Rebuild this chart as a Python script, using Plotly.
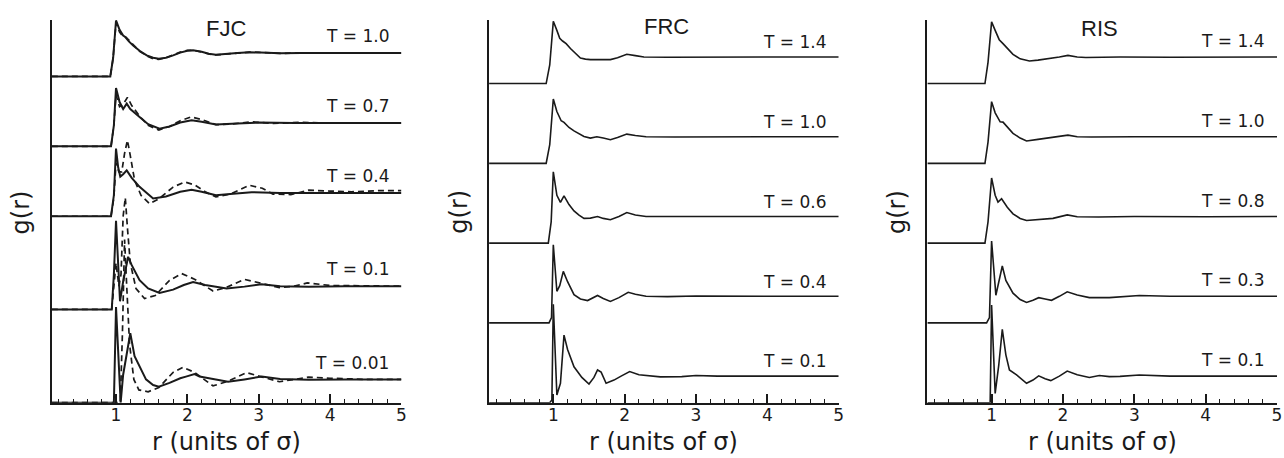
import plotly.graph_objects as go

# ---------------- DATA ----------------
panel_names = ["FJC", "FRC", "RIS"]

# FJC panel (solid = simulation, dashed = comparison)
fjc_temps = ["T = 1.0", "T = 0.7", "T = 0.4", "T = 0.1", "T = 0.01"]
fjc_offsets = [14, 11, 8, 4, 0]

fjc_T10_r = [0.1, 0.92, 0.96, 1.0, 1.05, 1.1, 1.13, 1.18, 1.24, 1.33, 1.43, 1.52, 1.6, 1.7, 1.8, 1.9, 2.0, 2.08, 2.2, 2.3, 2.4, 2.55, 2.7, 2.87, 3.0, 3.3, 3.6, 4.0, 4.5, 5.0]
fjc_T10_g = [0, 0, 0.8, 2.4, 2.0, 1.75, 1.69, 1.5, 1.33, 1.1, 0.9, 0.8, 0.76, 0.8, 0.9, 1.02, 1.1, 1.12, 1.06, 0.97, 0.93, 0.95, 1.0, 1.04, 1.03, 0.99, 1.0, 1.01, 1.0, 1.0]
fjc_T10d_r = [0.1, 0.92, 0.96, 1.0, 1.05, 1.1, 1.14, 1.18, 1.24, 1.33, 1.43, 1.52, 1.6, 1.7, 1.8, 1.9, 2.0, 2.08, 2.2, 2.3, 2.4, 2.55, 2.7, 2.87, 3.0, 3.3, 3.6, 4.0, 4.5, 5.0]
fjc_T10d_g = [0, 0, 0.8, 2.3, 1.9, 1.7, 1.68, 1.55, 1.35, 1.08, 0.88, 0.76, 0.73, 0.8, 0.92, 1.04, 1.12, 1.12, 1.05, 0.96, 0.92, 0.95, 1.01, 1.04, 1.03, 0.99, 1.0, 1.0, 1.0, 1.0]

fjc_T07_r = [0.1, 0.93, 0.97, 1.0, 1.05, 1.1, 1.15, 1.2, 1.33, 1.45, 1.61, 1.75, 1.9, 2.06, 2.2, 2.4, 2.7, 3.0, 3.5, 4.0, 5.0]
fjc_T07_g = [0, 0, 0.9, 2.5, 1.9, 1.6, 1.83, 1.6, 1.26, 0.95, 0.76, 0.85, 1.02, 1.12, 1.05, 0.94, 0.98, 1.02, 1.0, 1.0, 1.0]
fjc_T07d_r = [0.1, 0.93, 0.97, 1.0, 1.05, 1.1, 1.16, 1.22, 1.33, 1.45, 1.6, 1.75, 1.9, 2.05, 2.2, 2.4, 2.6, 2.9, 3.2, 3.6, 4.0, 5.0]
fjc_T07d_g = [0, 0, 0.9, 2.2, 1.7, 1.8, 2.1, 1.75, 1.3, 0.9, 0.7, 0.85, 1.1, 1.26, 1.15, 0.93, 0.95, 1.05, 0.98, 1.03, 1.0, 1.0]

fjc_T04_r = [0.1, 0.93, 0.97, 1.0, 1.03, 1.06, 1.1, 1.15, 1.22, 1.33, 1.52, 1.7, 1.9, 2.06, 2.2, 2.4, 2.6, 2.9, 3.3, 4.0, 5.0]
fjc_T04_g = [0, 0, 0.9, 2.9, 2.1, 1.7, 1.8, 1.97, 1.65, 1.26, 0.76, 0.85, 1.05, 1.14, 1.05, 0.9, 0.95, 1.03, 1.0, 1.0, 1.0]
fjc_T04d_r = [0.1, 0.93, 0.97, 1.0, 1.04, 1.08, 1.12, 1.16, 1.2, 1.26, 1.35, 1.47, 1.6, 1.8, 1.96, 2.1, 2.25, 2.4, 2.6, 2.87, 3.05, 3.2, 3.45, 3.7, 4.0, 4.3, 4.7, 5.0]
fjc_T04d_g = [0, 0, 0.8, 2.3, 1.9, 1.9, 2.7, 3.26, 2.6, 1.55, 0.9, 0.54, 0.75, 1.25, 1.47, 1.35, 1.05, 0.83, 0.95, 1.33, 1.2, 0.95, 0.93, 1.12, 1.08, 1.05, 1.1, 1.1]

fjc_T01_r = [0.1, 0.94, 0.97, 1.0, 1.056, 1.1, 1.17, 1.22, 1.33, 1.45, 1.61, 1.8, 1.95, 2.08, 2.25, 2.55, 2.8, 3.04, 3.3, 3.7, 4.2, 5.0]
fjc_T01_g = [0, 0, 1.5, 3.8, 0.35, 1.2, 2.26, 1.9, 1.26, 0.9, 0.71, 0.85, 1.05, 1.18, 1.05, 0.9, 0.98, 1.08, 1.0, 0.98, 1.0, 1.0]
fjc_T01d_r = [0.1, 0.94, 0.97, 1.0, 1.04, 1.07, 1.1, 1.13, 1.16, 1.2, 1.28, 1.4, 1.55, 1.75, 1.92, 2.1, 2.36, 2.55, 2.8, 3.05, 3.29, 3.5, 3.68, 4.0, 4.5, 5.0]
fjc_T01d_g = [0, 0, 1.0, 2.0, 1.0, 1.5, 4.0, 4.8, 3.5, 2.0, 0.9, 0.47, 0.6, 1.25, 1.54, 1.3, 0.79, 0.95, 1.29, 1.1, 0.94, 1.0, 1.14, 1.03, 1.0, 1.0]

fjc_T001_r = [0.1, 0.97, 1.0, 1.065, 1.1, 1.2, 1.26, 1.33, 1.42, 1.52, 1.6, 1.75, 1.9, 1.98, 2.1, 2.17, 2.3, 2.57, 2.8, 3.04, 3.3, 3.7, 4.2, 5.0]
fjc_T001_g = [0, 0, 4.1, 0.0, 1.2, 2.98, 2.0, 1.55, 1.0, 0.76, 0.69, 0.85, 1.05, 1.12, 1.23, 1.12, 1.05, 0.9, 1.0, 1.12, 1.02, 0.98, 1.0, 1.0]
fjc_T001d_r = [0.1, 1.06, 1.09, 1.12, 1.15, 1.19, 1.25, 1.32, 1.45, 1.6, 1.8, 1.94, 2.1, 2.36, 2.55, 2.83, 3.05, 3.29, 3.5, 3.7, 4.0, 4.5, 5.0]
fjc_T001d_g = [0, 0, 3.0, 7.0, 5.0, 2.5, 1.0, 0.55, 0.47, 0.65, 1.3, 1.52, 1.3, 0.72, 0.9, 1.29, 1.1, 0.9, 1.0, 1.1, 1.05, 1.0, 1.0]

# FRC panel
frc_temps = ["T = 1.4", "T = 1.0", "T = 0.6", "T = 0.4", "T = 0.1"]
frc_offsets = [12, 9, 6, 3, 0]
frc_T14_r = [0.1, 0.9, 0.95, 1.0, 1.05, 1.09, 1.13, 1.18, 1.24, 1.3, 1.38, 1.45, 1.52, 1.65, 1.8, 1.9, 2.03, 2.15, 2.27, 2.6, 3.0, 3.5, 4.0, 5.0]
frc_T14_g = [0, 0, 0.7, 2.34, 2.0, 1.7, 1.6, 1.5, 1.32, 1.15, 0.96, 0.92, 0.9, 0.9, 0.9, 0.97, 1.1, 1.05, 1.0, 0.99, 1.0, 1.0, 1.0, 1.0]
frc_T10_r = [0.1, 0.9, 0.95, 1.0, 1.05, 1.11, 1.15, 1.22, 1.29, 1.36, 1.43, 1.52, 1.61, 1.7, 1.8, 1.9, 2.03, 2.15, 2.3, 2.7, 3.2, 4.0, 5.0]
frc_T10_g = [0, 0, 0.7, 2.42, 1.95, 1.6, 1.54, 1.35, 1.22, 1.1, 1.01, 0.95, 1.0, 0.95, 0.89, 0.97, 1.1, 1.05, 1.0, 0.99, 1.0, 1.0, 1.0]
frc_T06_r = [0.1, 0.93, 0.97, 1.0, 1.05, 1.1, 1.15, 1.22, 1.29, 1.36, 1.43, 1.52, 1.62, 1.7, 1.8, 1.92, 2.03, 2.15, 2.3, 2.7, 3.2, 4.0, 5.0]
frc_T06_g = [0, 0, 0.8, 2.68, 1.8, 1.53, 1.78, 1.45, 1.21, 1.05, 0.93, 0.94, 1.0, 0.93, 0.88, 1.0, 1.15, 1.06, 1.0, 1.0, 1.0, 1.0, 1.0]
frc_T04_r = [0.1, 0.94, 0.975, 1.0, 1.05, 1.09, 1.14, 1.2, 1.29, 1.38, 1.48, 1.56, 1.62, 1.7, 1.8, 1.92, 2.05, 2.15, 2.3, 2.6, 3.0, 4.0, 5.0]
frc_T04_g = [0, 0, 0.2, 2.94, 1.19, 1.4, 1.94, 1.55, 1.06, 0.9, 0.84, 0.95, 1.03, 0.92, 0.81, 0.95, 1.15, 1.08, 1.0, 0.99, 1.01, 1.0, 1.0]
frc_T01_r = [0.1, 0.95, 0.98, 1.0, 1.05, 1.1, 1.15, 1.2, 1.29, 1.4, 1.5, 1.57, 1.62, 1.67, 1.74, 1.85, 1.95, 2.07, 2.2, 2.5, 2.8, 3.0, 3.3, 4.0, 5.0]
frc_T01_g = [0, 0, 0.1, 3.7, 0.29, 0.73, 2.54, 2.0, 1.35, 0.95, 0.7, 0.95, 1.23, 1.15, 0.73, 0.85, 1.0, 1.17, 1.05, 0.97, 0.98, 1.02, 1.0, 1.0, 1.0]

# RIS panel
ris_temps = ["T = 1.4", "T = 1.0", "T = 0.8", "T = 0.3", "T = 0.1"]
ris_offsets = [12, 9, 6, 3, 0]
ris_T14_r = [0.1, 0.907, 0.95, 1.0, 1.05, 1.107, 1.16, 1.23, 1.3, 1.4, 1.53, 1.65, 1.81, 1.95, 2.07, 2.2, 2.32, 2.8, 3.5, 4.2, 5.0]
ris_T14_g = [0, 0, 0.8, 2.32, 2.0, 1.65, 1.5, 1.3, 1.1, 0.93, 0.85, 0.88, 0.93, 1.0, 1.06, 1.0, 0.98, 1.0, 0.99, 1.0, 1.0]
ris_T10_r = [0.1, 0.907, 0.95, 1.0, 1.05, 1.12, 1.16, 1.23, 1.3, 1.4, 1.49, 1.65, 1.81, 1.95, 2.07, 2.2, 2.4, 3.0, 4.0, 5.0]
ris_T10_g = [0, 0, 0.8, 2.32, 1.9, 1.56, 1.55, 1.35, 1.13, 0.95, 0.84, 0.9, 0.96, 1.02, 1.06, 1.0, 0.99, 1.0, 1.0, 1.0]
ris_T08_r = [0.1, 0.907, 0.95, 1.0, 1.05, 1.09, 1.14, 1.22, 1.3, 1.4, 1.49, 1.65, 1.86, 2.06, 2.2, 2.5, 3.0, 4.0, 5.0]
ris_T08_g = [0, 0, 0.8, 2.45, 1.8, 1.54, 1.67, 1.35, 1.1, 0.93, 0.85, 0.88, 0.93, 1.06, 0.99, 0.98, 1.0, 0.99, 1.0]
ris_T03_r = [0.1, 0.93, 0.97, 1.0, 1.06, 1.1, 1.15, 1.2, 1.3, 1.4, 1.49, 1.58, 1.66, 1.75, 1.84, 1.95, 2.06, 2.2, 2.37, 2.65, 3.07, 3.5, 4.0, 5.0]
ris_T03_g = [0, 0, 0.2, 3.08, 1.04, 1.5, 2.14, 1.6, 1.12, 0.88, 0.77, 0.85, 0.95, 0.9, 0.85, 1.0, 1.17, 1.05, 0.95, 0.95, 1.03, 1.0, 1.0, 1.0]
ris_T01_r = [0.1, 0.98, 1.0, 1.05, 1.1, 1.15, 1.2, 1.25, 1.35, 1.49, 1.58, 1.66, 1.75, 1.83, 1.95, 2.06, 2.2, 2.37, 2.51, 2.65, 2.8, 3.07, 3.5, 4.0, 5.0]
ris_T01_g = [0, 0, 3.67, 0.35, 1.4, 2.76, 1.8, 1.23, 1.05, 0.73, 0.85, 1.01, 0.9, 0.83, 1.0, 1.19, 1.05, 0.95, 1.02, 0.98, 0.99, 1.04, 1.0, 1.0, 1.0]

x_tick_vals = [1, 2, 3, 4, 5]
x_tick_text = ["1", "2", "3", "4", "5"]

# ---------------- FIGURE ----------------
W, H = 1284, 458
INK = "#1a1a1a"
FONT_T = "DejaVu Sans, Liberation Sans, Arial, sans-serif"
FONT_H = "Liberation Sans, Arial, Helvetica, sans-serif"

fig = go.Figure()

panels = [
    dict(name="FJC", temps=fjc_temps, offsets=fjc_offsets,
         solid=[(fjc_T10_r, fjc_T10_g), (fjc_T07_r, fjc_T07_g), (fjc_T04_r, fjc_T04_g), (fjc_T01_r, fjc_T01_g), (fjc_T001_r, fjc_T001_g)],
         dashed=[(fjc_T10d_r, fjc_T10d_g), (fjc_T07d_r, fjc_T07d_g), (fjc_T04d_r, fjc_T04d_g), (fjc_T01d_r, fjc_T01d_g), (fjc_T001d_r, fjc_T001d_g)],
         xdom=(52, 403), ymax=16.42, lw=2.0, lab_dy=1.72, title_xy=(227, 29)),
    dict(name="FRC", temps=frc_temps, offsets=frc_offsets,
         solid=[(frc_T14_r, frc_T14_g), (frc_T10_r, frc_T10_g), (frc_T06_r, frc_T06_g), (frc_T04_r, frc_T04_g), (frc_T01_r, frc_T01_g)],
         dashed=[], xdom=(491, 842), ymax=14.39, lw=1.6, lab_dy=1.55, title_xy=(669, 27)),
    dict(name="RIS", temps=ris_temps, offsets=ris_offsets,
         solid=[(ris_T14_r, ris_T14_g), (ris_T10_r, ris_T10_g), (ris_T08_r, ris_T08_g), (ris_T03_r, ris_T03_g), (ris_T01_r, ris_T01_g)],
         dashed=[], xdom=(931, 1282), ymax=14.39, lw=1.6, lab_dy=1.6, title_xy=(1104, 29)),
]

y_bottom_px, y_top_px = 402.7, 20
ydom = [(H - y_bottom_px) / H, (H - y_top_px) / H]

annotations = []
for i, p in enumerate(panels):
    ax = "" if i == 0 else str(i + 1)
    xref, yref = "x" + ax, "y" + ax
    for (r, g), off in zip(p["dashed"], p["offsets"]):
        fig.add_trace(go.Scatter(x=r, y=[v + off for v in g], mode="lines",
                                 line=dict(color=INK, width=1.7, dash="6px,4px"),
                                 xaxis=xref, yaxis=yref, showlegend=False, hoverinfo="skip"))
    for (r, g), off in zip(p["solid"], p["offsets"]):
        fig.add_trace(go.Scatter(x=r, y=[v + off for v in g], mode="lines",
                                 line=dict(color=INK, width=p["lw"]),
                                 xaxis=xref, yaxis=yref, showlegend=False, hoverinfo="skip"))
    for label, off in zip(p["temps"], p["offsets"]):
        annotations.append(dict(x=4.85, y=off + p["lab_dy"], xref=xref, yref=yref,
                                text=label, showarrow=False, xanchor="right", yanchor="middle",
                                font=dict(family=FONT_T, size=17, color=INK)))
    # panel title
    tx, ty = p["title_xy"]
    annotations.append(dict(x=tx / W, y=(H - ty) / H, xref="paper", yref="paper", text=p["name"],
                            showarrow=False, xanchor="center", yanchor="middle",
                            font=dict(family=FONT_H, size=22, color=INK)))
    # x title
    x0, x1 = p["xdom"]
    annotations.append(dict(x=(x0 + x1) / 2 / W, y=0.0, xref="paper", yref="paper",
                            text="r (units of σ)", showarrow=False, xanchor="center", yanchor="bottom",
                            font=dict(family=FONT_T, size=24, color=INK)))
    # y title
    annotations.append(dict(x=(x0 - 30.5) / W, y=(H - 212) / H, xref="paper", yref="paper",
                            text="g(r)", textangle=-90, showarrow=False, xanchor="center", yanchor="middle",
                            font=dict(family=FONT_T, size=24, color=INK)))

    xa = dict(domain=[x0 / W, x1 / W], range=[0.1, 5.0], showline=True, linecolor=INK, linewidth=2,
              showgrid=False, zeroline=False, ticks="inside", ticklen=9, tickwidth=1.5, tickcolor=INK,
              tickvals=x_tick_vals, ticktext=x_tick_text, ticklabelstandoff=-4,
              tickfont=dict(family=FONT_T, size=17, color=INK),
              minor=dict(ticks="inside", ticklen=4, tickwidth=1.2, tickcolor=INK, dtick=0.2, tick0=0, showgrid=False),
              anchor=yref, fixedrange=True)
    ya = dict(domain=ydom, range=[0, p["ymax"]], showline=True, linecolor=INK, linewidth=2,
              showgrid=False, zeroline=False, ticks="", showticklabels=False, anchor=xref, fixedrange=True)
    fig.update_layout(**{"xaxis" + ax: xa, "yaxis" + ax: ya})

fig.update_layout(width=W, height=H, margin=dict(l=0, r=0, t=0, b=0),
                  paper_bgcolor="white", plot_bgcolor="white",
                  annotations=annotations, showlegend=False)

fig.write_html("out.html", config={"displayModeBar": False})
